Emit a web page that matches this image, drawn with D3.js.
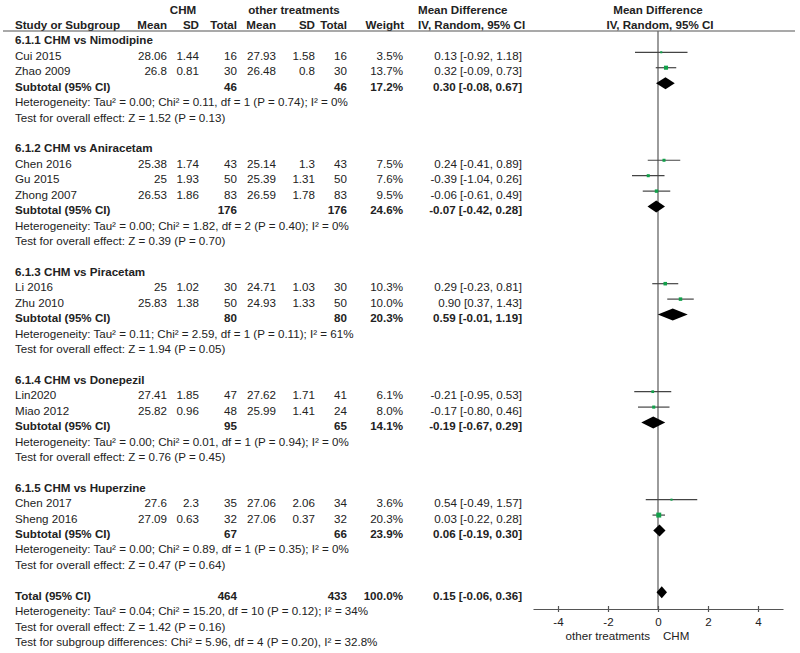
<!DOCTYPE html>
<html>
<head>
<meta charset="utf-8">
<script src="https://cdn.jsdelivr.net/npm/d3@7"></script>
<style>
  body { margin: 0; background: #fff; }
  text { font-family: "Liberation Sans", Arial, sans-serif; font-size: 11.6px; fill: #222; }
  .b { font-weight: bold; }
</style>
</head>
<body>
<script>
// study level data
const studyNames = ["Cui 2015", "Zhao 2009", "Chen 2016", "Gu 2015", "Zhong 2007", "Li 2016", "Zhu 2010",
  "Lin2020", "Miao 2012", "Chen 2017", "Sheng 2016"];
const studyGroup = [0, 0, 1, 1, 1, 2, 2, 3, 3, 4, 4];
const chmMean = [28.06, 26.8, 25.38, 25, 26.53, 25, 25.83, 27.41, 25.82, 27.6, 27.09];
const chmSD = [1.44, 0.81, 1.74, 1.93, 1.86, 1.02, 1.38, 1.85, 0.96, 2.3, 0.63];
const chmTotal = [16, 30, 43, 50, 83, 30, 50, 47, 48, 35, 32];
const otherMean = [27.93, 26.48, 25.14, 25.39, 26.59, 24.71, 24.93, 27.62, 25.99, 27.06, 27.06];
const otherSD = [1.58, 0.8, 1.3, 1.31, 1.78, 1.03, 1.33, 1.71, 1.41, 2.06, 0.37];
const otherTotal = [16, 30, 43, 50, 83, 30, 50, 41, 24, 34, 32];
const weights = [3.5, 13.7, 7.5, 7.6, 9.5, 10.3, 10.0, 6.1, 8.0, 3.6, 20.3];
const meanDiff = [0.13, 0.32, 0.24, -0.39, -0.06, 0.29, 0.90, -0.21, -0.17, 0.54, 0.03];
const ciLow = [-0.92, -0.09, -0.41, -1.04, -0.61, -0.23, 0.37, -0.95, -0.80, -0.49, -0.22];
const ciHigh = [1.18, 0.73, 0.89, 0.26, 0.49, 0.81, 1.43, 0.53, 0.46, 1.57, 0.28];

// subgroup data
const groupTitles = ["6.1.1 CHM vs Nimodipine", "6.1.2 CHM vs Aniracetam", "6.1.3 CHM vs Piracetam",
  "6.1.4 CHM vs Donepezil", "6.1.5 CHM vs Huperzine"];
const subChmTotal = [46, 176, 80, 95, 67];
const subOtherTotal = [46, 176, 80, 65, 66];
const subWeight = [17.2, 24.6, 20.3, 14.1, 23.9];
const subMD = [0.30, -0.07, 0.59, -0.19, 0.06];
const subLow = [-0.08, -0.42, -0.01, -0.67, -0.19];
const subHigh = [0.67, 0.28, 1.19, 0.29, 0.30];
const subHet = [
  "Heterogeneity: Tau² = 0.00; Chi² = 0.11, df = 1 (P = 0.74); I² = 0%",
  "Heterogeneity: Tau² = 0.00; Chi² = 1.82, df = 2 (P = 0.40); I² = 0%",
  "Heterogeneity: Tau² = 0.11; Chi² = 2.59, df = 1 (P = 0.11); I² = 61%",
  "Heterogeneity: Tau² = 0.00; Chi² = 0.01, df = 1 (P = 0.94); I² = 0%",
  "Heterogeneity: Tau² = 0.00; Chi² = 0.89, df = 1 (P = 0.35); I² = 0%"
];
const subEffect = [
  "Test for overall effect: Z = 1.52 (P = 0.13)",
  "Test for overall effect: Z = 0.39 (P = 0.70)",
  "Test for overall effect: Z = 1.94 (P = 0.05)",
  "Test for overall effect: Z = 0.76 (P = 0.45)",
  "Test for overall effect: Z = 0.47 (P = 0.64)"
];

// overall
const totalN = [464, 433];
const totalWeight = 100.0;
const totalMD = [0.15, -0.06, 0.36];
const totalNotes = [
  "Heterogeneity: Tau² = 0.04; Chi² = 15.20, df = 10 (P = 0.12); I² = 34%",
  "Test for overall effect: Z = 1.42 (P = 0.16)",
  "Test for subgroup differences: Chi² = 5.96, df = 4 (P = 0.20), I² = 32.8%"
];
const axisTicks = [-4, -2, 0, 2, 4];

const W = 800, H = 653;
const svg = d3.select("body").append("svg").attr("width", W).attr("height", H);

const rowY = d3.scaleLinear().domain([0, 41]).range([9.5, 642]);
const x = d3.scaleLinear().domain([-5, 5]).range([533, 783]);
const markOff = -3.5;

const col = { study: 15, m1: 167, sd1: 199, n1: 237, m2: 276, sd2: 315, n2: 347, w: 403, ci: 522, ciHead: 418 };

function txt(s, xx, row, anchor, bold) {
  svg.append("text")
    .attr("x", xx).attr("y", rowY(row)).attr("dy", "0.35em")
    .attr("text-anchor", anchor || "start")
    .attr("class", bold ? "b" : null)
    .text(s);
}
const f2 = v => v.toFixed(2);
const ciStr = (m, l, h) => `${f2(m)} [${f2(l)}, ${f2(h)}]`;

// headers
txt("CHM", 183, 0, "middle", true);
txt("other treatments", 294, 0, "middle", true);
txt("Mean Difference", col.ciHead, 0, "start", true);
txt("Mean Difference", x(0), 0, "middle", true);
txt("Study or Subgroup", col.study, 1, "start", true);
txt("Mean", col.m1, 1, "end", true);
txt("SD", col.sd1, 1, "end", true);
txt("Total", col.n1, 1, "end", true);
txt("Mean", col.m2, 1, "end", true);
txt("SD", col.sd2, 1, "end", true);
txt("Total", col.n2, 1, "end", true);
txt("Weight", col.w + 1, 1, "end", true);
txt("IV, Random, 95% CI", col.ciHead, 1, "start", true);
txt("IV, Random, 95% CI", x(0) + 2, 1, "middle", true);

svg.append("line").attr("x1", 3).attr("x2", 795).attr("y1", 31).attr("y2", 31)
  .attr("stroke", "#555").attr("stroke-width", 1.2);

// zero line
svg.append("line").attr("x1", x(0)).attr("x2", x(0)).attr("y1", 31).attr("y2", 609)
  .attr("stroke", "#666").attr("stroke-width", 1.3);

function diamond(m, l, h, row) {
  const y = rowY(row) + markOff, hh = 6;
  svg.append("path")
    .attr("d", `M${x(l)},${y}L${x(m)},${y - hh}L${x(h)},${y}L${x(m)},${y + hh}Z`)
    .attr("fill", "#000");
}

let row = 2;
groupTitles.forEach((title, g) => {
  txt(title, col.study, row, "start", true);
  row++;
  studyNames.forEach((name, i) => {
    if (studyGroup[i] !== g) return;
    txt(name, col.study, row);
    txt(String(chmMean[i]), col.m1, row, "end");
    txt(String(chmSD[i]), col.sd1, row, "end");
    txt(String(chmTotal[i]), col.n1, row, "end");
    txt(String(otherMean[i]), col.m2, row, "end");
    txt(String(otherSD[i]), col.sd2, row, "end");
    txt(String(otherTotal[i]), col.n2, row, "end");
    txt(weights[i].toFixed(1) + "%", col.w, row, "end");
    txt(ciStr(meanDiff[i], ciLow[i], ciHigh[i]), col.ci, row, "end");
    const y = rowY(row) + markOff;
    svg.append("line").attr("x1", x(ciLow[i])).attr("x2", x(ciHigh[i]))
      .attr("y1", y).attr("y2", y).attr("stroke", "#444").attr("stroke-width", 1.2);
    const s = Math.sqrt(weights[i]) * 1.1;
    svg.append("rect").attr("x", x(meanDiff[i]) - s / 2).attr("y", y - s / 2)
      .attr("width", s).attr("height", s).attr("fill", "#12a04a");
    row++;
  });
  txt("Subtotal (95% CI)", col.study, row, "start", true);
  txt(String(subChmTotal[g]), col.n1, row, "end", true);
  txt(String(subOtherTotal[g]), col.n2, row, "end", true);
  txt(subWeight[g].toFixed(1) + "%", col.w, row, "end", true);
  txt(ciStr(subMD[g], subLow[g], subHigh[g]), col.ci, row, "end", true);
  diamond(subMD[g], subLow[g], subHigh[g], row);
  row++;
  txt(subHet[g], col.study, row);
  row++;
  txt(subEffect[g], col.study, row);
  row += 2;
});

txt("Total (95% CI)", col.study, row, "start", true);
txt(String(totalN[0]), col.n1, row, "end", true);
txt(String(totalN[1]), col.n2, row, "end", true);
txt(totalWeight.toFixed(1) + "%", col.w, row, "end", true);
txt(ciStr(totalMD[0], totalMD[1], totalMD[2]), col.ci, row, "end", true);
diamond(totalMD[0], totalMD[1], totalMD[2], row);
totalNotes.forEach((t, k) => txt(t, col.study, row + 1 + k));

// axis
const ax = svg.append("g").attr("transform", "translate(0,609)")
  .call(d3.axisBottom(x).tickValues(axisTicks).tickSize(3).tickSizeOuter(0).tickPadding(6)
    .tickFormat(d3.format("d")));
ax.select(".domain").attr("stroke", "#555").attr("stroke-width", 1.2);
ax.selectAll(".tick line").attr("y1", -3).attr("y2", 3).attr("stroke", "#555").attr("stroke-width", 1.2);
ax.selectAll(".tick text").attr("fill", "#333")
  .style("font-family", '"Liberation Sans", Arial, sans-serif').style("font-size", "11.6px");
ax.selectAll(".tick text").text(d => d < 0 ? "-" + Math.abs(d) : d);

svg.append("text").attr("x", 650).attr("y", 636).attr("dy", "0.35em")
  .attr("text-anchor", "end").attr("fill", "#333").text("other treatments");
svg.append("text").attr("x", 663).attr("y", 636).attr("dy", "0.35em")
  .attr("text-anchor", "start").attr("fill", "#333").text("CHM");
</script>
</body>
</html>
